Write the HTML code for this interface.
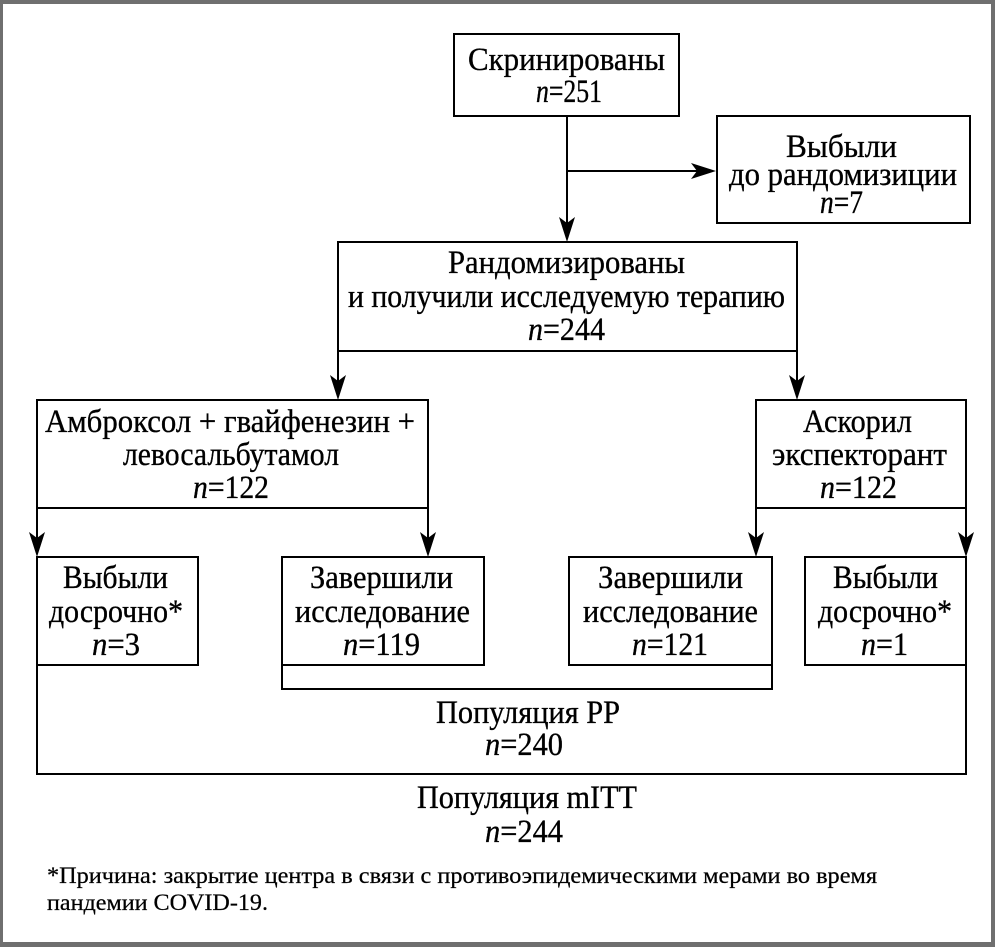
<!DOCTYPE html>
<html>
<head>
<meta charset="utf-8">
<style>
  html, body { margin: 0; padding: 0; background: #fff; }
  body { width: 995px; height: 947px; overflow: hidden; }
  svg { display: block; }
  text { font-family: "Liberation Serif", "DejaVu Serif", serif; fill: #000; stroke: #000; stroke-width: 0.35px; }
  .t { font-size: 33px; }
  .f { font-size: 23px; stroke-width: 0.25px; }
</style>
</head>
<body>
<svg width="995" height="947" viewBox="0 0 995 947" xmlns="http://www.w3.org/2000/svg">
  <!-- gray frame -->
  <rect x="0" y="0" width="995" height="947" fill="#6f6f6f"/>
  <rect x="3" y="4" width="988" height="938" fill="#ffffff"/>

  <g stroke="#000" stroke-width="2" fill="none">
    <!-- boxes -->
    <rect x="454" y="34" width="225" height="82"/>
    <rect x="717" y="116" width="253" height="107"/>
    <rect x="338" y="242" width="459" height="109"/>
    <rect x="37" y="400" width="391" height="108"/>
    <rect x="756" y="400" width="210" height="108"/>
    <rect x="37" y="557" width="161" height="108"/>
    <rect x="282" y="557" width="202" height="108"/>
    <rect x="569" y="557" width="203" height="108"/>
    <rect x="805" y="557" width="161" height="108"/>

    <!-- connectors -->
    <line x1="567" y1="116" x2="567" y2="225"/>
    <line x1="567" y1="171" x2="700" y2="171"/>
    <line x1="338" y1="351" x2="338" y2="384"/>
    <line x1="797" y1="351" x2="797" y2="384"/>
    <line x1="37" y1="508" x2="37" y2="541"/>
    <line x1="428" y1="508" x2="428" y2="541"/>
    <line x1="756" y1="508" x2="756" y2="541"/>
    <line x1="966" y1="508" x2="966" y2="541"/>

    <!-- brackets -->
    <polyline points="282,665 282,689 772,689 772,665"/>
    <polyline points="37,665 37,774 966,774 966,665"/>
  </g>

  <!-- arrowheads -->
  <g fill="#000">
    <path d="M567,242 L559,217 L567,223 L575,217 Z"/>
    <path d="M716,171 L691,163 L697,171 L691,179 Z"/>
    <path d="M338,400 L330,375 L338,381 L346,375 Z"/>
    <path d="M797,400 L789,375 L797,381 L805,375 Z"/>
    <path d="M37,557 L29,532 L37,538 L45,532 Z"/>
    <path d="M428,557 L420,532 L428,538 L436,532 Z"/>
    <path d="M756,557 L748,532 L756,538 L764,532 Z"/>
    <path d="M966,557 L958,532 L966,538 L974,532 Z"/>
  </g>

  <!-- texts -->
  <text class="t" x="468" y="70" textLength="197" lengthAdjust="spacingAndGlyphs">Скринированы</text>
  <text class="t" x="536" y="102" textLength="66" lengthAdjust="spacingAndGlyphs"><tspan font-style="italic">n</tspan>=251</text>

  <text class="t" x="786" y="157" textLength="111" lengthAdjust="spacingAndGlyphs">Выбыли</text>
  <text class="t" x="729" y="185" textLength="228" lengthAdjust="spacingAndGlyphs">до рандомизиции</text>
  <text class="t" x="820" y="213" textLength="43" lengthAdjust="spacingAndGlyphs"><tspan font-style="italic">n</tspan>=7</text>

  <text class="t" x="448" y="273" textLength="237" lengthAdjust="spacingAndGlyphs">Рандомизированы</text>
  <text class="t" x="348" y="307" textLength="437" lengthAdjust="spacingAndGlyphs">и получили исследуемую терапию</text>
  <text class="t" x="528" y="340" textLength="77" lengthAdjust="spacingAndGlyphs"><tspan font-style="italic">n</tspan>=244</text>

  <text class="t" x="45" y="432" textLength="370" lengthAdjust="spacingAndGlyphs">Амброксол + гвайфенезин +</text>
  <text class="t" x="123" y="465" textLength="216" lengthAdjust="spacingAndGlyphs">левосальбутамол</text>
  <text class="t" x="193" y="498" textLength="76" lengthAdjust="spacingAndGlyphs"><tspan font-style="italic">n</tspan>=122</text>

  <text class="t" x="803" y="432" textLength="109" lengthAdjust="spacingAndGlyphs">Аскорил</text>
  <text class="t" x="772" y="465" textLength="175" lengthAdjust="spacingAndGlyphs">экспекторант</text>
  <text class="t" x="820" y="498" textLength="77" lengthAdjust="spacingAndGlyphs"><tspan font-style="italic">n</tspan>=122</text>

  <text class="t" x="63" y="588" textLength="105" lengthAdjust="spacingAndGlyphs">Выбыли</text>
  <text class="t" x="49" y="622" textLength="134" lengthAdjust="spacingAndGlyphs">досрочно*</text>
  <text class="t" x="92" y="655" textLength="48" lengthAdjust="spacingAndGlyphs"><tspan font-style="italic">n</tspan>=3</text>

  <text class="t" x="310" y="588" textLength="143" lengthAdjust="spacingAndGlyphs">Завершили</text>
  <text class="t" x="295" y="622" textLength="175" lengthAdjust="spacingAndGlyphs">исследование</text>
  <text class="t" x="343" y="655" textLength="77" lengthAdjust="spacingAndGlyphs"><tspan font-style="italic">n</tspan>=119</text>

  <text class="t" x="598" y="588" textLength="145" lengthAdjust="spacingAndGlyphs">Завершили</text>
  <text class="t" x="583" y="622" textLength="175" lengthAdjust="spacingAndGlyphs">исследование</text>
  <text class="t" x="632" y="655" textLength="76" lengthAdjust="spacingAndGlyphs"><tspan font-style="italic">n</tspan>=121</text>

  <text class="t" x="833" y="588" textLength="105" lengthAdjust="spacingAndGlyphs">Выбыли</text>
  <text class="t" x="818" y="622" textLength="134" lengthAdjust="spacingAndGlyphs">досрочно*</text>
  <text class="t" x="861" y="655" textLength="47" lengthAdjust="spacingAndGlyphs"><tspan font-style="italic">n</tspan>=1</text>

  <text class="t" x="436" y="723" textLength="184" lengthAdjust="spacingAndGlyphs">Популяция PP</text>
  <text class="t" x="485" y="755" textLength="78" lengthAdjust="spacingAndGlyphs"><tspan font-style="italic">n</tspan>=240</text>

  <text class="t" x="417" y="808" textLength="220" lengthAdjust="spacingAndGlyphs">Популяция mITT</text>
  <text class="t" x="485" y="842" textLength="78" lengthAdjust="spacingAndGlyphs"><tspan font-style="italic">n</tspan>=244</text>

  <text class="f" x="47" y="883" textLength="830" lengthAdjust="spacingAndGlyphs">*Причина: закрытие центра в связи с противоэпидемическими мерами во время</text>
  <text class="f" x="47" y="910" textLength="221" lengthAdjust="spacingAndGlyphs">пандемии COVID-19.</text>
</svg>
</body>
</html>
